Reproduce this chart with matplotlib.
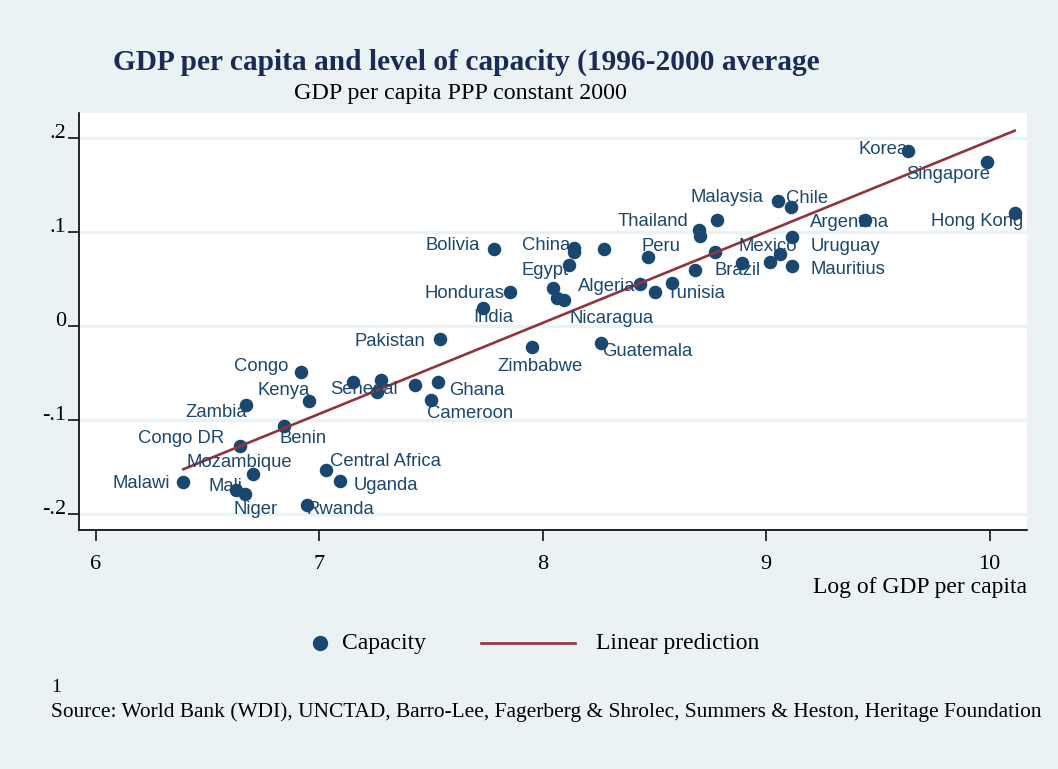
import numpy as np
import matplotlib
matplotlib.use('Agg')
import matplotlib.pyplot as plt
from matplotlib.lines import Line2D

# data (log GDP per capita, capacity index)
countries = ['Malawi', 'Congo DR', 'Zambia', 'Mozambique', 'Mali', 'Niger',
             'Congo', 'Kenya', 'Benin', 'Central Africa', 'Uganda', 'Rwanda',
             '', '', 'Senegal', '', 'Ghana', 'Cameroon', 'Pakistan', 'India',
             'Honduras', 'Zimbabwe', 'Guatemala', '', '', 'Nicaragua', 'Egypt',
             'China', '', 'Bolivia', '', 'Peru', 'Algeria', 'Tunisia', '',
             'Thailand', '', '', '', '', 'Brazil', '', 'Mexico', 'Mauritius',
             'Uruguay', 'Malaysia', 'Chile', 'Argentina', 'Korea', 'Singapore',
             'Hong Kong']
log_gdp = [6.392, 6.646, 6.673, 6.705, 6.628, 6.668,
           6.919, 6.953, 6.842, 7.031, 7.094, 6.944,
           7.150, 7.276, 7.259, 7.430, 7.532, 7.498, 7.541, 7.735,
           7.853, 7.951, 8.261, 8.044, 8.064, 8.095, 8.116,
           8.138, 8.138, 7.782, 8.272, 8.469, 8.434, 8.504, 8.579,
           8.699, 8.703, 8.780, 8.773, 8.680, 8.892, 9.018, 9.060, 9.114,
           9.114, 9.055, 9.109, 9.441, 9.634, 9.988,
           10.112]
capacity = [-0.166, -0.128, -0.084, -0.158, -0.175, -0.179,
            -0.049, -0.080, -0.107, -0.154, -0.165, -0.191,
            -0.060, -0.058, -0.070, -0.063, -0.060, -0.079, -0.014, 0.019,
            0.036, -0.023, -0.018, 0.040, 0.030, 0.027, 0.065,
            0.083, 0.078, 0.082, 0.082, 0.073, 0.044, 0.036, 0.045,
            0.102, 0.095, 0.113, 0.078, 0.059, 0.067, 0.068, 0.076, 0.064,
            0.094, 0.133, 0.126, 0.113, 0.186, 0.174,
            0.120]

x_ticks = [6, 7, 8, 9, 10]
y_ticks = [-0.2, -0.1, 0, 0.1, 0.2]
y_ticklabels = ['-.2', '-.1', '0', '.1', '.2']

# label placement: (dx, dy) in pixels, horizontal alignment
label_pos = {
    'Malawi': (-13, 0, 'right'), 'Congo DR': (-16, 10, 'right'),
    'Zambia': (1, -6, 'right'), 'Mozambique': (-14, 14, 'center'),
    'Mali': (6, 6, 'right'), 'Niger': (11, -14, 'center'),
    'Congo': (-13, 7, 'right'), 'Kenya': (1, 12, 'right'),
    'Benin': (-4, -10, 'left'), 'Central Africa': (4, 11, 'left'),
    'Uganda': (13, -3, 'left'), 'Rwanda': (0, -2, 'left'),
    'Senegal': (-13, 4, 'center'), 'Ghana': (11, -6, 'left'),
    'Cameroon': (-4, -12, 'left'), 'Pakistan': (-15, -1, 'right'),
    'India': (-10, -8, 'left'), 'Honduras': (-5, 0, 'right'),
    'Zimbabwe': (8, -17, 'center'), 'Guatemala': (1, -7, 'left'),
    'Nicaragua': (6, -16, 'left'), 'Egypt': (0, -4, 'right'),
    'China': (-3, 4, 'right'), 'Bolivia': (-14, 5, 'right'),
    'Peru': (-6, 13, 'left'), 'Algeria': (-4, 0, 'right'),
    'Tunisia': (11, 0, 'left'), 'Thailand': (-11, 10, 'right'),
    'Malaysia': (-15, 5, 'right'), 'Chile': (-5, 11, 'left'),
    'Argentina': (-15, -1, 'center'), 'Uruguay': (19, -7, 'left'),
    'Mexico': (-12, 10, 'center'), 'Brazil': (-5, -6, 'center'),
    'Mauritius': (19, -2, 'left'), 'Korea': (0, 3, 'right'),
    'Singapore': (3, -10, 'right'), 'Hong Kong': (9, -7, 'right'),
}

bg = '#eaf2f3'
navy = '#1a476f'
maroon = '#90353b'
title_col = '#1c2b55'
serif = ['Liberation Serif', 'DejaVu Serif']
sans = ['Liberation Sans', 'DejaVu Sans']

fig = plt.figure(figsize=(10.58, 7.69), dpi=100, facecolor=bg)
W, H = 1058.0, 769.0
ax = fig.add_axes([79 / W, 1 - 530 / H, (1027 - 79) / W, (530 - 113) / H])
ax.set_facecolor('white')

x = np.array(log_gdp)
y = np.array(capacity)

for yt in y_ticks:
    ax.axhline(yt, color=bg, lw=2.5, zorder=1)

ax.scatter(x, y, s=95, color=navy, zorder=3, linewidths=0)

# linear prediction
coef = np.polyfit(x, y, 1)
xs = np.array([x.min(), x.max()])
ax.plot(xs, np.polyval(coef, xs), color=maroon, lw=1.9, zorder=4)

for name, xi, yi in zip(countries, x, y):
    if not name:
        continue
    dx, dy, ha = label_pos[name]
    ax.annotate(name, (xi, yi), xytext=(dx, dy - 2), textcoords='offset pixels',
                ha=ha, va='center', fontsize=13.3, color=navy,
                family=sans, zorder=5)

ax.set_xlim(5.925, 10.167)
ax.set_ylim(-0.2173, 0.2263)
ax.set_xticks(x_ticks)
ax.set_xticklabels([str(t) for t in x_ticks])
ax.set_yticks(y_ticks)
ax.set_yticklabels(y_ticklabels)
for side in ['top', 'right']:
    ax.spines[side].set_visible(False)
for side in ['left', 'bottom']:
    ax.spines[side].set_linewidth(1.2)
ax.tick_params(axis='both', length=8, width=1.1, labelsize=16, direction='out')
ax.tick_params(axis='y', pad=1)
ax.tick_params(axis='x', pad=10)
for lab in ax.get_xticklabels() + ax.get_yticklabels():
    lab.set_family(serif)
for lab in ax.get_yticklabels():
    lab.set_va('baseline')

ax.set_xlabel('Log of GDP per capita', loc='right', fontsize=17,
              family=serif, labelpad=2)

fig.text(466 / W, 1 - 62 / H,
         'GDP per capita and level of capacity (1996-2000 average',
         ha='center', va='center', fontsize=21.2, fontweight='bold',
         family=serif, color=title_col)
fig.text(460 / W, 1 - 94 / H, 'GDP per capita PPP constant 2000',
         ha='center', va='center', fontsize=17.3, family=serif, color='black')

# legend
ly = 1 - 643 / H
fig.add_artist(Line2D([320 / W], [ly], marker='o', markersize=10,
                      color=navy, linestyle='none', transform=fig.transFigure))
fig.text(342 / W, ly, 'Capacity', ha='left', va='center', fontsize=17,
         family=serif)
fig.add_artist(Line2D([481 / W, 575 / W], [ly, ly], color=maroon, lw=1.9,
                      transform=fig.transFigure))
fig.text(596 / W, ly, 'Linear prediction', ha='left', va='center',
         fontsize=17, family=serif)

fig.text(51 / W, 1 - 687 / H, '1', ha='left', va='center', fontsize=14,
         family=serif)
fig.text(51 / W, 1 - 712 / H,
         'Source: World Bank (WDI), UNCTAD, Barro-Lee, Fagerberg & Shrolec, '
         'Summers & Heston, Heritage Foundation',
         ha='left', va='center', fontsize=15.4, family=serif)

fig.savefig('out.png', dpi=100, facecolor=bg)
